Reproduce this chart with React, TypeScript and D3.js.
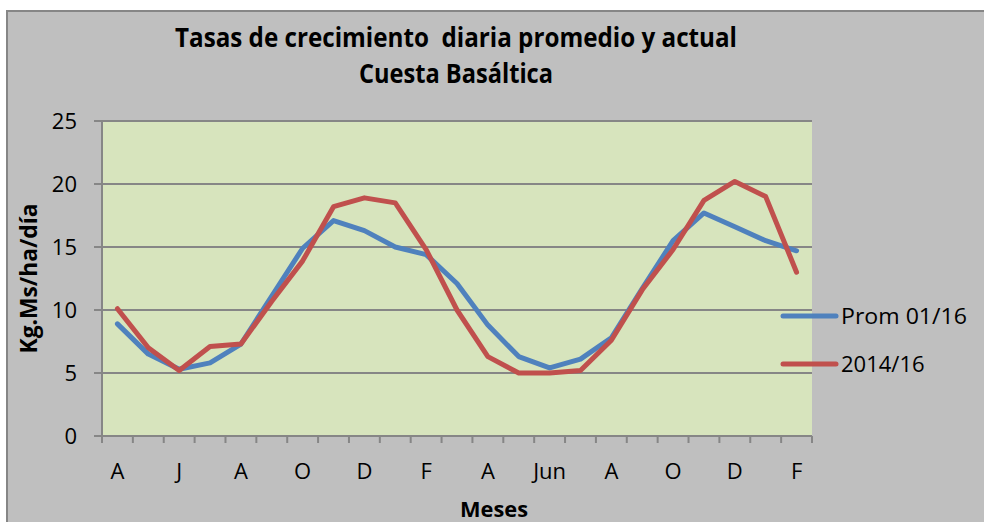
import * as d3 from 'd3';
import React from 'react';

// Meses de abril a febrero (dos temporadas), etiqueta cada dos meses
const months = [
  'A', 'M', 'J', 'J', 'A', 'S', 'O', 'N', 'D', 'E', 'F', 'M',
  'A', 'M', 'Jun', 'J', 'A', 'S', 'O', 'N', 'D', 'E', 'F'
];

const promValues = [
  8.9, 6.5, 5.3, 5.8, 7.3, 11.1, 14.9, 17.1, 16.3, 15.0, 14.4, 12.1,
  8.8, 6.3, 5.4, 6.1, 7.8, 11.7, 15.5, 17.7, 16.6, 15.5, 14.7
];

const actualValues = [
  10.1, 7.0, 5.2, 7.1, 7.3, 10.7, 13.9, 18.2, 18.9, 18.5, 14.8, 10.0,
  6.3, 5.0, 5.0, 5.2, 7.6, 11.6, 14.8, 18.7, 20.2, 19.0, 13.0
];

const seriesNames = ['Prom 01/16', '2014/16'];
const yTicks = [0, 5, 10, 15, 20, 25];

const width = 984;
const height = 522;
const plot = { left: 102, right: 812, top: 121, bottom: 436 };
const font = '"Open Sans", "DejaVu Sans", sans-serif';
const colors = ['#4f81bd', '#c0504d'];
const gridColor = '#868686';

export default function App() {
  const x = d3
    .scaleBand<number>()
    .domain(d3.range(months.length))
    .range([plot.left, plot.right])
    .padding(0);

  const y = d3.scaleLinear().domain([0, 25]).range([plot.bottom, plot.top]);

  const line = d3
    .line<number>()
    .x((_d, i) => (x(i) as number) + x.bandwidth() / 2)
    .y((d) => y(d));

  const series = [promValues, actualValues];
  // boundaries between categories get a tick mark
  const boundaries = d3.range(months.length + 1).map((i) => plot.left + i * x.bandwidth());

  return (
    <div style={{ position: 'fixed', left: 0, top: 0, width, height, overflow: 'hidden' }}>
      <svg width={width} height={height} style={{ display: 'block', background: '#ffffff', overflow: 'hidden' }}>
        <rect x={7} y={11} width={width + 50} height={height + 50} fill="#bfbfbf" stroke={gridColor} strokeWidth={2} />

        {/* title */}
        <text
          x={456}
          y={47}
          textAnchor="middle"
          fontFamily={font}
          fontWeight="bold"
          fontSize={26}
          textLength={562}
          lengthAdjust="spacingAndGlyphs"
          style={{ whiteSpace: 'pre' }}
        >
          Tasas de crecimiento  diaria promedio y actual
        </text>
        <text
          x={456}
          y={83}
          textAnchor="middle"
          fontFamily={font}
          fontWeight="bold"
          fontSize={26}
          textLength={194}
          lengthAdjust="spacingAndGlyphs"
        >
          Cuesta Basáltica
        </text>

        {/* plot area */}
        <rect
          x={plot.left}
          y={plot.top}
          width={plot.right - plot.left}
          height={plot.bottom - plot.top}
          fill="#d7e4bd"
        />
        {yTicks.map((t) => (
          <g key={`g${t}`}>
            <line x1={plot.left - 8} x2={plot.right} y1={y(t)} y2={y(t)} stroke={gridColor} strokeWidth={2} />
            <text x={77} y={y(t) + 8} textAnchor="end" fontFamily={font} fontSize={22} fill="#000">
              {t}
            </text>
          </g>
        ))}
        <line x1={plot.left} x2={plot.left} y1={plot.top} y2={plot.bottom} stroke={gridColor} strokeWidth={2} />
        {boundaries.map((bx, i) => (
          <line key={`t${i}`} x1={bx} x2={bx} y1={plot.bottom} y2={plot.bottom + 7} stroke={gridColor} strokeWidth={2} />
        ))}
        {months.map((m, i) =>
          i % 2 === 0 ? (
            <text
              key={`m${i}`}
              x={(x(i) as number) + x.bandwidth() / 2}
              y={479}
              textAnchor="middle"
              fontFamily={font}
              fontSize={22}
            >
              {m}
            </text>
          ) : null
        )}

        {/* series */}
        {series.map((s, k) => (
          <path
            key={`s${k}`}
            d={line(s) ?? ''}
            fill="none"
            stroke={colors[k]}
            strokeWidth={5}
            strokeLinejoin="round"
            strokeLinecap="round"
          />
        ))}

        {/* legend */}
        {seriesNames.map((name, k) => (
          <g key={`l${k}`}>
            <line x1={783} x2={836} y1={316 + k * 48} y2={316 + k * 48} stroke={colors[k]} strokeWidth={5} strokeLinecap="round" />
            <text x={841} y={324 + k * 48} fontFamily={font} fontSize={22} textLength={k === 0 ? 126 : undefined} lengthAdjust="spacingAndGlyphs">
              {name}
            </text>
          </g>
        ))}

        {/* axis titles */}
        <text
          transform="translate(37,278.5) rotate(-90)"
          textAnchor="middle"
          fontFamily={font}
          fontWeight="bold"
          fontSize={23}
          textLength={150}
          lengthAdjust="spacingAndGlyphs"
        >
          Kg.Ms/ha/día
        </text>
        <text
          x={494}
          y={517}
          textAnchor="middle"
          fontFamily={font}
          fontWeight="bold"
          fontSize={22}
          textLength={68}
          lengthAdjust="spacingAndGlyphs"
        >
          Meses
        </text>
      </svg>
    </div>
  );
}
